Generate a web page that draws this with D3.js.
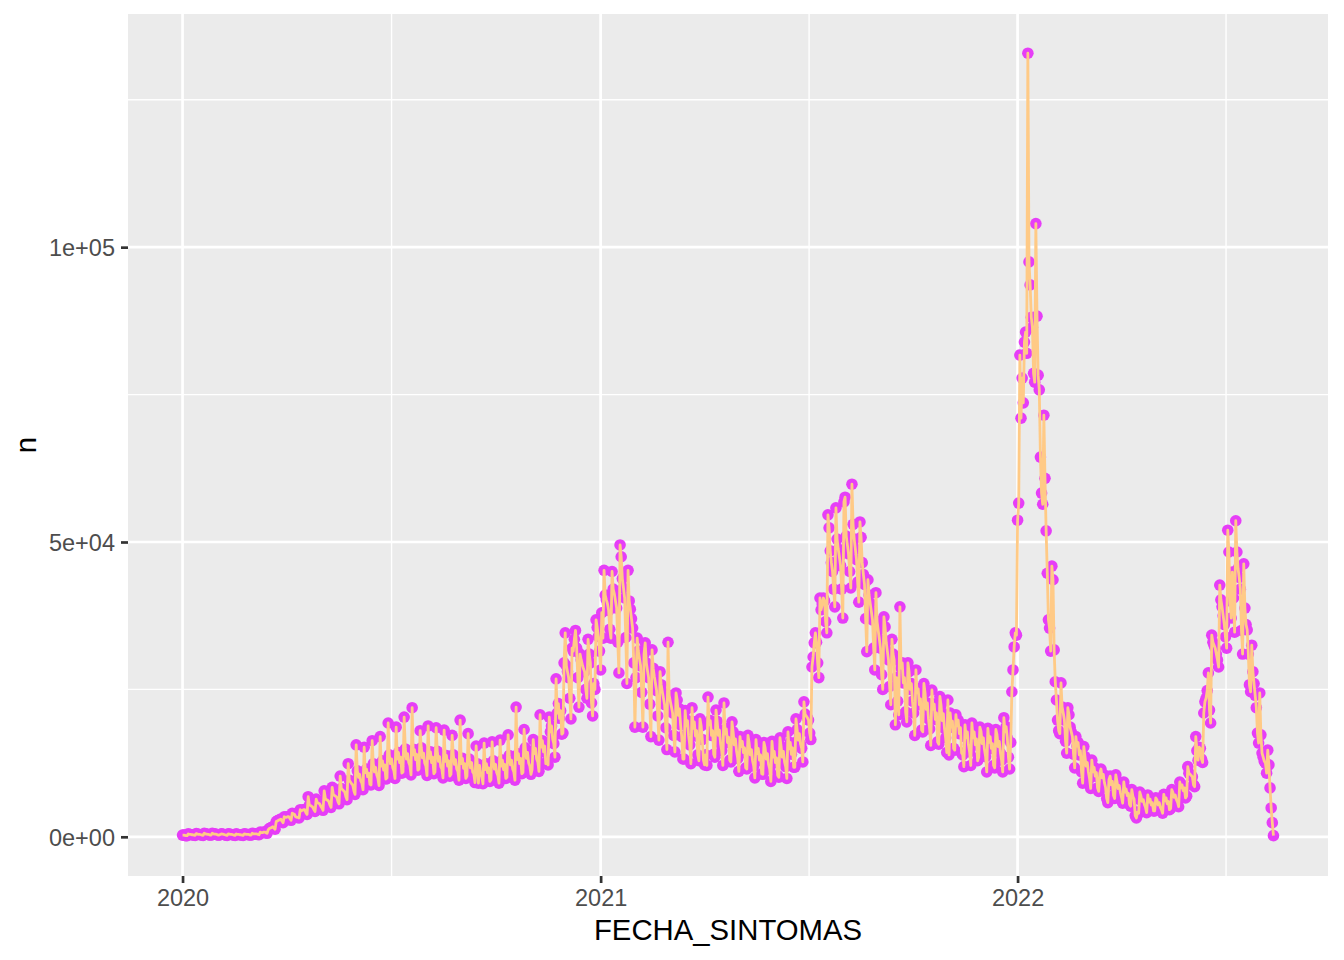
<!DOCTYPE html>
<html>
<head>
<meta charset="utf-8">
<script src="https://cdn.jsdelivr.net/npm/d3@7"></script>
<style>
  body { margin: 0; background: #fff; }
  svg { display: block; }
  text { font-family: "Liberation Sans", Arial, Helvetica, sans-serif; }
</style>
</head>
<body>
<div id="chart"></div>
<script>
// daily counts by FECHA_SINTOMAS, in thousands, one row per week (Mon..Sun)
var n2020 = [
  0.3, 0.3, 0.25, 0.2, 0.2,
  0.5, 0.4, 0.4, 0.35, 0.35, 0.3, 0.25,
  0.55, 0.45, 0.4, 0.4, 0.35, 0.3, 0.25,
  0.6, 0.5, 0.45, 0.4, 0.4, 0.3, 0.3,
  0.6, 0.5, 0.45, 0.45, 0.4, 0.3, 0.3,
  0.4, 0.5, 0.45, 0.4, 0.35, 0.3, 0.25,
  0.5, 0.45, 0.4, 0.4, 0.35, 0.3, 0.25,
  0.5, 0.4, 0.4, 0.35, 0.35, 0.3, 0.25,
  0.5, 0.45, 0.4, 0.4, 0.4, 0.3, 0.3,
  0.6, 0.5, 0.5, 0.5, 0.5, 0.4, 0.35,
  0.8, 0.7, 0.7, 0.8, 0.8, 0.7, 0.6,
  1.2, 1.4, 1.5, 1.6, 1.7, 1.5, 1.3,
  2.6, 2.7, 2.8, 2.9, 3.0, 2.7, 2.4,
  3.4, 3.3, 3.3, 3.4, 3.4, 3.1, 2.8,
  4.0, 3.9, 3.8, 3.4, 3.3, 3.3, 3.2,
  4.6, 4.4, 4.5, 4.6, 4.6, 4.1, 3.8,
  6.8, 5.4, 5.3, 5.2, 5.0, 4.6, 4.3,
  6.4, 5.8, 5.7, 5.6, 5.2, 4.9, 4.5,
  7.8, 6.5, 6.3, 6.2, 6.0, 5.4, 5.0,
  8.4, 7.2, 7.0, 6.9, 6.7, 6.0, 5.6,
  10.3, 8.2, 8.0, 7.8, 7.6, 6.8, 6.3,
  12.4, 9.6, 9.3, 9.0, 8.8, 7.8, 7.2,
  15.6, 11.2, 10.1, 10.6, 9.5, 9.1, 8.0,
  15.2, 10.9, 11.5, 10.2, 10.8, 8.9, 8.8,
  16.3, 12.4, 11.0, 11.8, 10.5, 9.9, 8.7,
  17.0, 12.0, 12.9, 11.3, 12.2, 9.8, 10.0,
  19.3, 13.9, 12.4, 13.2, 11.7, 11.2, 9.9,
  18.6, 13.2, 14.3, 12.6, 13.5, 10.8, 11.0,
  20.3, 14.9, 13.2, 14.1, 12.6, 12.1, 10.5,
  21.9, 13.9, 14.8, 13.1, 14.0, 11.3, 11.5,
  18.0, 15.1, 13.4, 14.2, 12.5, 12.0, 10.4,
  18.8, 13.3, 14.4, 12.6, 13.5, 10.7, 11.0,
  18.5, 14.5, 12.8, 13.6, 11.9, 11.5, 10.0,
  18.1, 12.8, 13.8, 12.0, 12.9, 10.3, 10.6,
  17.2, 13.9, 12.3, 13.1, 11.5, 11.1, 9.6,
  19.8, 12.4, 13.3, 11.6, 12.4, 9.9, 10.3,
  17.5, 13.2, 11.7, 12.6, 11.0, 10.7, 9.2,
  15.4, 12.4, 9.1, 12.1, 10.7, 10.2, 9.0,
  15.9, 11.4, 12.4, 10.9, 11.7, 9.4, 9.7,
  16.1, 12.9, 11.5, 12.3, 10.9, 10.4, 9.1,
  16.4, 12.0, 13.0, 11.4, 12.3, 9.9, 10.1,
  17.3, 13.8, 12.2, 13.0, 11.5, 11.0, 9.6,
  22.0, 13.1, 14.1, 12.4, 13.3, 10.7, 10.9,
  18.2, 15.1, 13.3, 14.3, 12.5, 12.0, 10.6,
  11.4, 16.5, 14.1, 15.0, 13.2, 12.7, 11.1,
  20.7, 15.2, 16.3, 14.4, 15.4, 12.4, 12.7,
  12.2, 20.3, 17.8, 18.8, 16.6, 15.8, 13.5,
  26.8, 21.0, 22.6, 20.1, 21.4, 17.4, 17.6,
  29.5, 34.6, 29.0, 28.0, 27.0, 23.5, 20.0,
  32.0, 31.5, 33.5, 35.0, 32.0, 27.0, 22.0,
  31.0, 30.0, 29.2, 28.5, 28.0, 25.0, 23.5,
  33.5, 31.0, 29.5, 22.7, 20.5, 26.0, 25.0,
  36.8, 35.5, 34.0, 31.5
];

var n2021 = [
  28.3, 38.0, 33.7,
  45.2, 41.0, 40.2, 39.5, 38.4, 35.2, 33.7,
  45.0, 42.0, 41.2, 40.0, 38.8, 33.0, 27.8,
  49.5, 47.5, 43.8, 42.2, 40.5, 33.8, 26.0,
  45.2, 40.0, 38.6, 37.0, 35.4, 29.5, 18.6,
  27.0, 33.7, 31.5, 30.2, 29.0, 24.5, 18.6,
  31.0, 32.9, 29.5, 28.2, 27.0, 22.5, 17.0,
  31.7, 28.6, 27.2, 26.0, 24.8, 20.5, 16.4,
  28.0, 25.8, 24.6, 23.5, 22.4, 18.5, 14.8,
  33.0, 24.0, 23.0, 22.0, 21.0, 17.2, 14.4,
  24.4, 23.2, 20.6, 21.7, 19.0, 17.0, 13.2,
  13.2, 21.4, 18.8, 19.7, 17.2, 15.6, 12.4,
  21.9, 18.4, 19.5, 17.1, 18.0, 13.9, 12.9,
  20.0, 18.8, 16.5, 13.0, 12.2, 13.9, 12.1,
  23.7, 19.0, 19.7, 17.2, 18.0, 14.0, 13.5,
  21.5, 19.6, 17.2, 18.1, 15.8, 14.6, 12.1,
  22.7, 17.4, 18.3, 16.0, 16.9, 13.0, 12.7,
  19.5, 17.8, 15.6, 16.6, 14.5, 13.3, 11.1,
  17.0, 15.3, 16.2, 14.3, 15.1, 11.7, 11.5,
  17.2, 15.9, 13.9, 14.8, 12.9, 12.0, 10.0,
  16.5, 14.1, 15.0, 13.0, 13.9, 10.7, 10.6,
  16.0, 15.1, 13.2, 14.1, 12.3, 11.5, 9.4,
  16.2, 13.5, 14.5, 12.6, 13.4, 10.4, 10.1,
  16.8, 15.3, 13.5, 14.5, 12.7, 11.9, 9.9,
  17.8, 14.9, 16.0, 14.0, 15.1, 11.8, 11.8,
  20.0, 18.2, 16.4, 17.5, 15.7, 15.0, 12.7,
  22.9, 20.8, 20.5, 20.2, 19.8, 17.6, 16.5,
  28.8, 30.5, 32.9, 34.6, 33.0, 29.5, 27.0,
  40.5, 38.5, 39.5, 40.5, 40.0, 36.5, 34.6,
  54.6, 52.4, 48.5, 46.5, 45.0, 42.0, 39.0,
  55.8, 50.5, 48.8, 47.5, 46.0, 42.0, 37.1,
  56.8, 57.6, 51.0, 49.5, 48.0, 45.0, 42.2,
  59.8, 53.0, 50.5, 48.8, 47.0, 43.2, 39.8,
  53.4, 50.8, 46.5, 44.5, 42.8, 37.0, 31.4,
  43.6, 41.0, 39.6, 38.2, 36.8, 32.0, 28.3,
  41.4, 36.5, 35.0, 33.5, 32.0, 27.5, 25.0,
  37.3, 35.6, 33.0, 31.5, 30.0, 25.5, 22.4,
  33.5, 31.0, 30.0, 19.0, 27.0, 23.0, 20.7,
  39.0, 28.6, 29.5, 26.1, 27.0, 21.2, 19.5,
  29.5, 28.0, 25.0, 26.0, 23.0, 21.0, 17.2,
  28.3, 24.4, 25.1, 22.4, 23.4, 18.1, 17.8,
  26.0, 24.4, 21.6, 22.7, 20.0, 18.3, 15.5,
  24.9, 21.6, 22.5, 19.9, 21.0, 16.1, 15.7,
  23.8, 22.3, 19.7, 20.9, 18.4, 16.8, 14.3,
  23.2, 13.9, 21.0, 18.6, 19.6, 15.0, 14.7,
  20.7, 18.8, 19.8, 17.5, 18.5, 14.2, 13.9,
  11.9, 19.0, 16.8, 17.8, 15.6, 14.4, 12.1,
  19.3, 16.8, 17.8, 15.6, 16.6, 12.9, 13.5,
  18.6, 17.9, 15.8, 16.8, 14.8, 13.6, 11.0,
  18.4, 16.0, 17.0, 15.0, 15.8, 12.1, 11.7,
  18.2, 17.3, 15.3, 16.2, 14.2, 13.0, 11.0,
  20.2, 17.8, 18.7, 16.8, 13.5, 11.5, 16.0,
  24.6, 28.3, 32.2, 34.6, 34.2
];

var n2022 = [
  53.7, 56.6,
  81.7, 71.0, 77.8, 73.6, 83.9, 85.6, 82.0,
  132.9, 97.5, 93.6, 88.1, 86.4, 78.6, 77.1,
  104.0, 88.3, 78.3, 75.8, 64.4, 58.3, 56.4,
  71.5, 60.8, 51.9, 44.7, 36.8, 35.4, 31.5,
  45.9, 43.6, 31.7, 26.3, 23.2, 19.8, 18.0,
  17.5, 26.1, 22.0, 21.0, 19.8, 16.2, 14.2,
  21.9, 20.7, 18.6, 17.8, 17.0, 14.0, 11.7,
  17.0, 15.4, 16.0, 13.9, 14.6, 11.0, 9.1,
  15.3, 13.6, 12.0, 12.6, 11.0, 9.9, 8.2,
  13.0, 11.0, 11.8, 10.3, 10.9, 8.3, 7.7,
  10.8, 11.5, 10.0, 10.6, 9.2, 8.4, 6.5,
  5.8, 9.7, 10.3, 8.8, 9.4, 7.0, 6.5,
  10.5, 9.4, 8.2, 8.7, 7.5, 6.7, 5.7,
  9.3, 7.6, 8.1, 7.0, 7.4, 5.5, 5.2,
  8.0, 6.8, 6.4, 3.6, 3.2, 4.2, 4.0,
  7.6, 6.9, 6.0, 6.3, 5.5, 5.0, 4.1,
  7.1, 5.9, 6.4, 5.4, 5.8, 4.4, 4.4,
  6.6, 6.3, 5.4, 5.8, 5.0, 4.6, 4.0,
  7.2, 6.1, 6.6, 5.6, 6.0, 4.6, 4.8,
  8.0, 7.5, 6.7, 7.1, 6.3, 5.9, 5.1,
  9.3, 8.3, 8.8, 7.8, 8.3, 6.6, 6.9,
  11.9, 10.8, 10.6, 10.4, 10.2, 8.8, 8.5,
  17.0, 14.6, 13.0, 15.2, 15.0, 13.2, 12.6,
  21.0, 22.9, 23.5, 24.8, 27.8, 21.5, 19.3,
  34.2, 33.0, 32.5, 32.0, 31.0, 30.0, 28.8,
  42.7, 40.2, 39.0, 37.5, 36.0, 33.9, 32.0,
  52.0, 48.3, 40.0, 37.1, 44.9, 40.5, 34.7,
  53.6, 48.3, 45.5, 44.0, 42.0, 35.0, 31.0,
  46.3, 38.8, 36.0, 35.1, 31.0, 25.8, 24.6,
  32.5, 28.0, 26.0, 24.0, 21.9, 17.6, 15.9,
  24.4, 17.3, 14.2, 13.5, 12.8, 12.5, 10.8,
  14.7, 12.2, 8.3, 4.9, 2.4, 0.2
];

var yearStarts = ['2020-01-01', '2021-01-01', '2022-01-01'];
var xTickLabels = ['2020', '2021', '2022'];
var yTicks = [0, 50000, 100000];
var yTickLabels = ['0e+00', '5e+04', '1e+05'];

var svgWidth = 1344;
var svgHeight = 960;

var margin = {
  top: 14,
  right: 16,
  bottom: 84,
  left: 128
};

var chartWidth = svgWidth - margin.left - margin.right;
var chartHeight = svgHeight - margin.top - margin.bottom;

// build the daily rows
var series = [n2020, n2021, n2022];
var data = [];
series.forEach(function(arr, i) {
  var start = new Date(yearStarts[i] + 'T00:00:00Z');
  arr.forEach(function(v, j) {
    data.push({ date: d3.utcDay.offset(start, j), n: Math.round(v * 1000) });
  });
});

var svg = d3.select('#chart')
  .append('svg')
  .attr('width', svgWidth)
  .attr('height', svgHeight);

var chartGroup = svg.append('g')
  .attr('transform', `translate(${margin.left}, ${margin.top})`);

// scales with ggplot's 5% expansion
var xExt = d3.extent(data, d => d.date);
var xPad = (xExt[1] - xExt[0]) * 0.05;
var xScale = d3.scaleUtc()
  .domain([new Date(+xExt[0] - xPad), new Date(+xExt[1] + xPad)])
  .range([0, chartWidth]);

var yMax = d3.max(data, d => d.n);
var yScale = d3.scaleLinear()
  .domain([-yMax * 0.05, yMax * 1.05])
  .range([chartHeight, 0]);

// panel
chartGroup.append('rect')
  .attr('width', chartWidth)
  .attr('height', chartHeight)
  .attr('fill', '#EBEBEB');

// gridlines: minor ones sit halfway between the major breaks
var xMajor = yearStarts.map(s => new Date(s + 'T00:00:00Z'));
var xMinor = [];
for (var i = 0; i < xMajor.length; i++) {
  var a = +xMajor[i];
  var b = i < xMajor.length - 1 ? +xMajor[i + 1] : a + (a - +xMajor[i - 1]);
  var mid = new Date((a + b) / 2);
  if (mid <= xScale.domain()[1]) xMinor.push(mid);
}
var yStep = yTicks[1] - yTicks[0];
var yMinor = yTicks.map(t => t + yStep / 2)
  .filter(m => m <= yScale.domain()[1]);

var grid = chartGroup.append('g');
grid.selectAll('.ymin').data(yMinor).enter().append('line')
  .attr('x1', 0).attr('x2', chartWidth)
  .attr('y1', d => yScale(d)).attr('y2', d => yScale(d))
  .attr('stroke', '#fff').attr('stroke-width', 1.4);
grid.selectAll('.xmin').data(xMinor).enter().append('line')
  .attr('y1', 0).attr('y2', chartHeight)
  .attr('x1', d => xScale(d)).attr('x2', d => xScale(d))
  .attr('stroke', '#fff').attr('stroke-width', 1.4);
grid.selectAll('.ymaj').data(yTicks).enter().append('line')
  .attr('x1', 0).attr('x2', chartWidth)
  .attr('y1', d => yScale(d)).attr('y2', d => yScale(d))
  .attr('stroke', '#fff').attr('stroke-width', 2.7);
grid.selectAll('.xmaj').data(xMajor).enter().append('line')
  .attr('y1', 0).attr('y2', chartHeight)
  .attr('x1', d => xScale(d)).attr('x2', d => xScale(d))
  .attr('stroke', '#fff').attr('stroke-width', 2.7);

// points, then the line on top
chartGroup.append('g').selectAll('circle')
  .data(data)
  .enter()
  .append('circle')
  .attr('cx', d => xScale(d.date))
  .attr('cy', d => yScale(d.n))
  .attr('r', 5.8)
  .attr('fill', '#E63EF7');

var line = d3.line()
  .x(d => xScale(d.date))
  .y(d => yScale(d.n));

chartGroup.append('path')
  .datum(data)
  .attr('d', line)
  .attr('fill', 'none')
  .attr('stroke', '#FFCA86')
  .attr('stroke-width', 2.8)
  .attr('stroke-linejoin', 'round');

// axes
var bottomAxis = d3.axisBottom(xScale)
  .tickValues(xMajor)
  .tickFormat((d, i) => xTickLabels[i])
  .tickSize(7)
  .tickPadding(6);

var leftAxis = d3.axisLeft(yScale)
  .tickValues(yTicks)
  .tickFormat((d, i) => yTickLabels[i])
  .tickSize(7)
  .tickPadding(6);

var xAxis = chartGroup.append('g')
  .attr('transform', `translate(0, ${chartHeight})`)
  .call(bottomAxis);

var yAxis = chartGroup.append('g')
  .call(leftAxis);

[xAxis, yAxis].forEach(function(ax) {
  ax.select('.domain').remove();
  ax.selectAll('.tick line').attr('stroke', '#333333').attr('stroke-width', 2.7);
  ax.selectAll('.tick text')
    .attr('fill', '#4D4D4D')
    .attr('font-size', '23.5px')
    .attr('font-family', '"Liberation Sans", Arial, Helvetica, sans-serif');
});
xAxis.selectAll('.tick text').attr('dy', '0.74em');
yAxis.selectAll('.tick text').attr('dy', '0.36em');

// axis titles
svg.append('text')
  .attr('x', margin.left + chartWidth / 2)
  .attr('y', 940)
  .attr('text-anchor', 'middle')
  .attr('font-size', '29.3px')
  .attr('fill', '#000')
  .text('FECHA_SINTOMAS');

svg.append('text')
  .attr('transform', `translate(36, ${margin.top + chartHeight / 2}) rotate(-90)`)
  .attr('text-anchor', 'middle')
  .attr('font-size', '29.3px')
  .attr('fill', '#000')
  .text('n');
</script>
</body>
</html>
